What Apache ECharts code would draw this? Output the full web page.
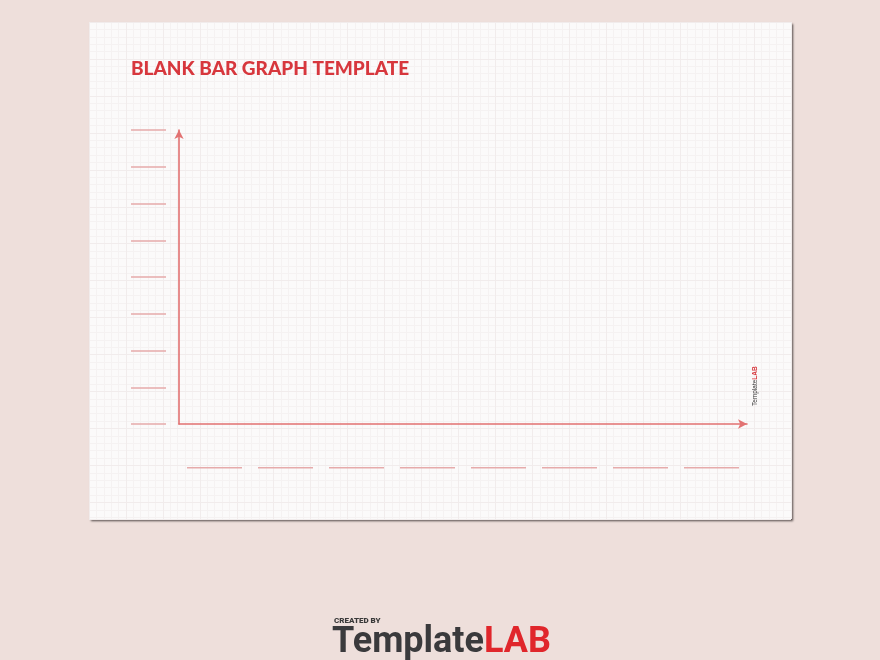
<!DOCTYPE html>
<html>
<head>
<meta charset="utf-8">
<script src="https://cdn.jsdelivr.net/npm/echarts@6/dist/echarts.min.js"></script>
<style>
html,body{margin:0;padding:0;background:#EEDFDB;}
#chart{width:880px;height:660px;}
</style>
</head>
<body>
<div id="chart"></div>
<script>
// Blank template: 8 empty category slots, 9 empty value levels, no values yet
const categories = ['', '', '', '', '', '', '', ''];
const yLevels = [0, 1, 2, 3, 4, 5, 6, 7, 8];
const values = [null, null, null, null, null, null, null, null];
const titleText = 'BLANK BAR GRAPH TEMPLATE';

const red = '#D7373D';
const axisRed = '#E27272';
const blankRed = '#E6ABAB';

const chart = echarts.init(document.getElementById('chart'), null, {renderer: 'canvas'});
chart.setOption({
  backgroundColor: '#EEDFDB',
  animation: false,
  title: {
    text: titleText,
    left: 126, top: 54,
    textStyle: {color: red, fontFamily: 'Lato', fontWeight: 900, fontSize: 19}
  },
  grid: [
    {left: 179, top: 130, width: 568, height: 294, containLabel: false},
    {left: 89, top: 22, width: 702, height: 497, show: true, backgroundColor: '#FBFAFA',
     borderWidth: 0, shadowColor: 'rgba(60,50,50,0.85)', shadowBlur: 2, shadowOffsetX: 2, shadowOffsetY: 2, z: -5}
  ],
  xAxis: [
    {
      type: 'category', gridIndex: 0, data: categories, boundaryGap: true,
      axisLine: {show: true, symbol: ['none', 'arrow'], symbolSize: [7, 9], lineStyle: {color: axisRed, width: 1.6}},
      axisTick: {show: false},
      axisLabel: {
        show: true, interval: 0, margin: 43,
        formatter: () => '{u| }',
        rich: {u: {width: 55, height: 1.5, lineHeight: 1.5, fontSize: 1, backgroundColor: blankRed}}
      },
      splitLine: {show: false}
    },
    {type: 'value', gridIndex: 1, min: 0, max: 95, interval: 1, z: -4,
     axisLine: {show: false}, axisTick: {show: false}, axisLabel: {show: false},
     splitLine: {show: true, lineStyle: {color: '#F5F2F2', width: 1}}},
    {type: 'value', gridIndex: 1, min: 0, max: 95, interval: 5, z: -3,
     axisLine: {show: false}, axisTick: {show: false}, axisLabel: {show: false},
     splitLine: {show: true, lineStyle: {color: '#F1ECEC', width: 1}}}
  ],
  yAxis: [
    {
      type: 'value', gridIndex: 0, min: yLevels[0], max: yLevels[yLevels.length - 1], interval: 1,
      axisLine: {show: true, symbol: ['none', 'arrow'], symbolSize: [7, 9], lineStyle: {color: axisRed, width: 1.6}},
      axisTick: {show: false}, axisLabel: {show: false}, splitLine: {show: false}
    },
    {
      type: 'value', gridIndex: 0, position: 'left', offset: 13,
      min: yLevels[0], max: yLevels[yLevels.length - 1], interval: 1,
      axisLine: {show: false},
      axisTick: {show: true, length: 35, lineStyle: {color: blankRed, width: 1.5}},
      axisLabel: {show: false}, splitLine: {show: false}
    },
    {type: 'value', gridIndex: 1, min: 0, max: 67.25, interval: 1, inverse: true, z: -4,
     axisLine: {show: false}, axisTick: {show: false}, axisLabel: {show: false},
     splitLine: {show: true, lineStyle: {color: '#F5F2F2', width: 1}}},
    {type: 'value', gridIndex: 1, min: 0, max: 67.25, interval: 5, inverse: true, z: -3,
     axisLine: {show: false}, axisTick: {show: false}, axisLabel: {show: false},
     splitLine: {show: true, lineStyle: {color: '#F1ECEC', width: 1}}}
  ],
  series: [
    {type: 'bar', xAxisIndex: 0, yAxisIndex: 0, data: values, itemStyle: {color: axisRed}}
  ],
  graphic: [
    {
      type: 'text', x: 752, y: 406, rotation: Math.PI / 2, z: 10,
      style: {
        text: '{a|Template}{b|LAB}',
        rich: {
          a: {fontFamily: 'Liberation Sans', fontSize: 6.5, fill: '#333'},
          b: {fontFamily: 'Liberation Sans', fontSize: 6.5, fontWeight: 'bold', fill: red}
        }
      }
    },
    {
      type: 'text', x: 334, y: 617, z: 10,
      style: {text: 'CREATED BY', fontFamily: 'Roboto', fontWeight: 900, fontSize: 8, fill: '#3A3A3A'}
    },
    {
      type: 'text', x: 332, y: 625, z: 10,
      style: {
        text: '{a|Template}{b|LAB}',
        rich: {
          a: {fontFamily: 'Roboto', fontWeight: 'bold', fontSize: 36, fill: '#3A3A3C'},
          b: {fontFamily: 'Roboto', fontWeight: 'bold', fontSize: 36, fill: '#E0262B'}
        }
      }
    }
  ]
});
</script>
</body>
</html>
